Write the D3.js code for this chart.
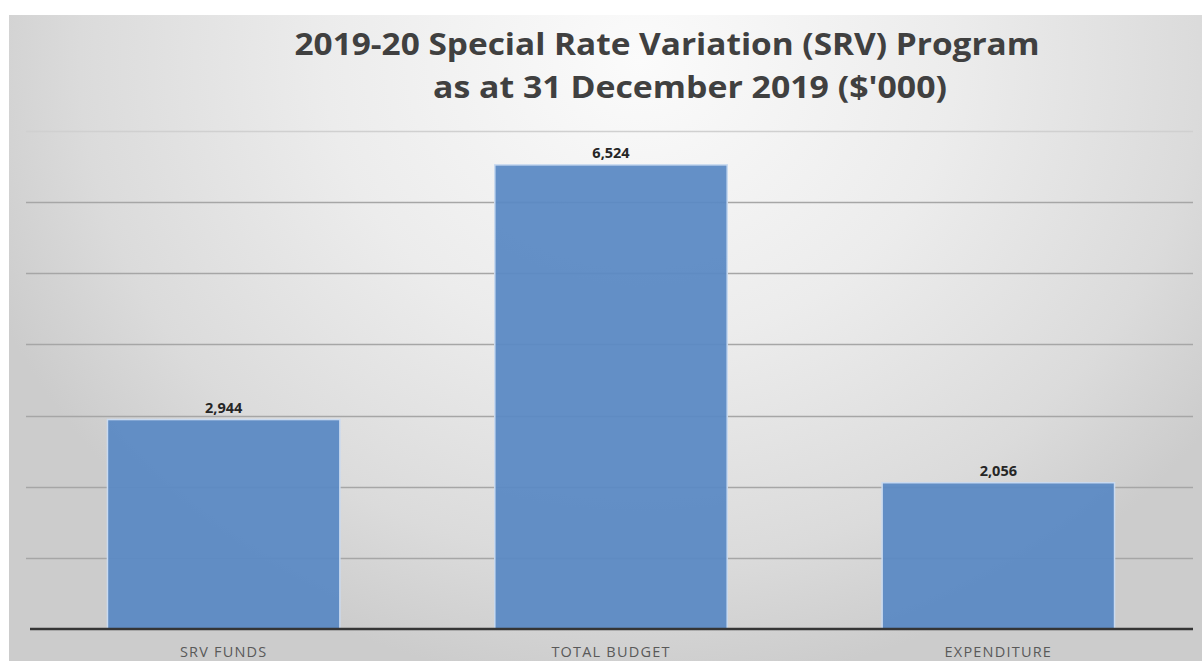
<!DOCTYPE html>
<html>
<head>
<meta charset="utf-8">
<script src="https://cdn.jsdelivr.net/npm/d3@7"></script>
<style>
  html, body { margin: 0; padding: 0; background: #ffffff; }
  svg { display: block; }
</style>
</head>
<body>
<svg id="chart" width="1202" height="661"></svg>
<script>
// SRV program figures, $'000
const categories = ["SRV FUNDS", "TOTAL BUDGET", "EXPENDITURE"];
const values = [2944, 6524, 2056];
const gridValues = [1000, 2000, 3000, 4000, 5000, 6000, 7000];
const titleLines = ["2019-20 Special Rate Variation (SRV) Program", "as at 31 December 2019 ($'000)"];

const W = 1202, H = 661;
const svg = d3.select("#chart");

// Chart area background: soft grey radial shading
const defs = svg.append("defs");
const grad = defs.append("radialGradient")
  .attr("id", "bg")
  .attr("gradientUnits", "userSpaceOnUse")
  .attr("cx", 640).attr("cy", 60).attr("r", 700)
  .attr("gradientTransform", "translate(640,60) scale(1,0.9) translate(-640,-60)");
grad.append("stop").attr("offset", "0%").attr("stop-color", "#fbfbfb");
grad.append("stop").attr("offset", "45%").attr("stop-color", "#ececec");
grad.append("stop").attr("offset", "80%").attr("stop-color", "#dbdbdb");
grad.append("stop").attr("offset", "100%").attr("stop-color", "#cccccc");

svg.append("rect")
  .attr("x", 9).attr("y", 15)
  .attr("width", W - 9).attr("height", H - 15)
  .attr("fill", "url(#bg)");

const x = d3.scaleBand()
  .domain(categories)
  .range([30, 1192])
  .paddingInner(0.4)
  .paddingOuter(0.2);

const y = d3.scaleLinear()
  .domain([0, 7000])
  .range([629, 131]);

// Horizontal gridlines
svg.append("g")
  .selectAll("line")
  .data(gridValues)
  .join("line")
  .attr("x1", 26).attr("x2", 1193)
  .attr("y1", d => Math.round(y(d)) + 0.5)
  .attr("y2", d => Math.round(y(d)) + 0.5)
  .attr("stroke", d => d === 7000 ? "#d0d0d0" : "#a6a6a6")
  .attr("stroke-width", 1.3);

// Bars (slightly translucent so gridlines show faintly through)
svg.append("g")
  .selectAll("rect")
  .data(values)
  .join("rect")
  .attr("x", (d, i) => x(categories[i]))
  .attr("y", d => y(d))
  .attr("width", x.bandwidth())
  .attr("height", d => y(0) - y(d))
  .attr("fill", "#5a89c3")
  .attr("fill-opacity", 0.94)
  .attr("stroke", "#c9daf0")
  .attr("stroke-width", 1.5);

// Baseline
svg.append("line")
  .attr("x1", 30).attr("x2", 1193)
  .attr("y1", y(0)).attr("y2", y(0))
  .attr("stroke", "#353535")
  .attr("stroke-width", 2.6);

// Value labels
svg.append("g")
  .selectAll("text")
  .data(values)
  .join("text")
  .attr("x", (d, i) => x(categories[i]) + x.bandwidth() / 2)
  .attr("y", d => y(d) - 7)
  .attr("text-anchor", "middle")
  .attr("font-family", "'Open Sans', 'DejaVu Sans', sans-serif")
  .attr("font-weight", 700)
  .attr("font-size", 14.5)
  .attr("fill", "#262626")
  .text(d => d3.format(",")(d));

// Category labels
svg.append("g")
  .selectAll("text")
  .data(categories)
  .join("text")
  .attr("x", d => x(d) + x.bandwidth() / 2)
  .attr("y", 657)
  .attr("text-anchor", "middle")
  .attr("font-family", "'Open Sans', 'DejaVu Sans', sans-serif")
  .attr("font-size", 14.5)
  .attr("letter-spacing", 1.2)
  .attr("fill", "#595959")
  .text(d => d);

// Title
const titleSpec = [
  { x: 667, y: 55, len: 745 },
  { x: 690, y: 98, len: 514 }
];
svg.append("g")
  .selectAll("text")
  .data(titleLines)
  .join("text")
  .attr("x", (d, i) => titleSpec[i].x)
  .attr("y", (d, i) => titleSpec[i].y)
  .attr("text-anchor", "middle")
  .attr("font-family", "'Open Sans', 'DejaVu Sans', sans-serif")
  .attr("font-weight", 700)
  .attr("font-size", 31)
  .attr("fill", "#404040")
  .attr("textLength", (d, i) => titleSpec[i].len)
  .attr("lengthAdjust", "spacingAndGlyphs")
  .text(d => d);
</script>
</body>
</html>
